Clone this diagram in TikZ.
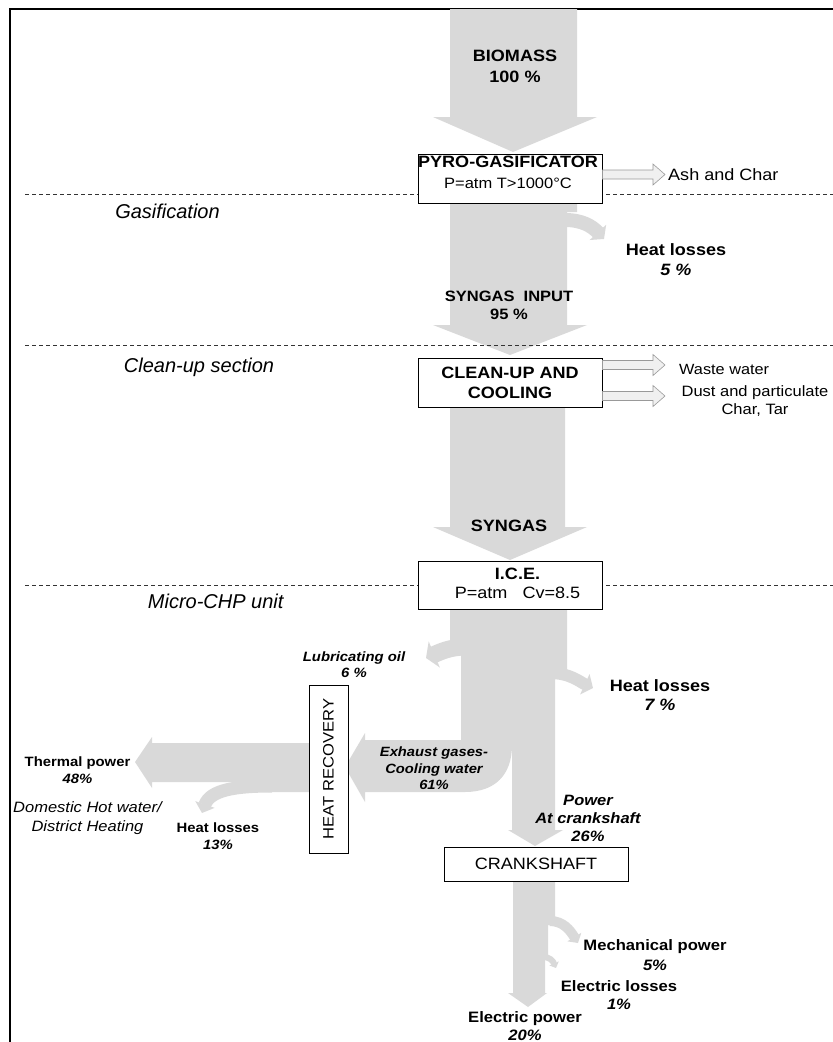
\documentclass[tikz,border=0pt]{standalone}
\usepackage{fontspec}
\setmainfont{Liberation Sans}[FakeStretch=1.1]
\newfontfamily\sectfont{Liberation Sans}
\usepackage{tikz}
\usetikzlibrary{arrows.meta,calc}
\definecolor{flowgray}{rgb}{0.85,0.85,0.85}
\definecolor{edgegray}{rgb}{0.6,0.6,0.6}
\definecolor{palegray}{rgb}{0.94,0.94,0.94}

\tikzset{
  flow/.style={fill=flowgray},
  branch/.style={draw=flowgray, line cap=butt},
  unitbox/.style={draw, fill=white, line width=0.9pt, inner sep=0pt},
  sectline/.style={dash pattern=on 4pt off 3pt, line width=0.6pt, black!80},
  sect/.style={inner sep=0pt, font=\sectfont\fontsize{20}{24}\selectfont\itshape},
  txt/.style={inner sep=0pt, align=center},
  outarrow/.style={draw=edgegray, fill=palegray, line width=0.6pt}
}

\newcommand{\outflow}[2]{%
  \draw[outarrow] ($(#1)+(0,-4.5)$) -- ($(#2)+(-12,-4.5)$) -- ($(#2)+(-12,-10.5)$)
    -- (#2) -- ($(#2)+(-12,10.5)$) -- ($(#2)+(-12,4.5)$) -- ($(#1)+(0,4.5)$) -- cycle;}

\begin{document}
\begin{tikzpicture}[x=1pt,y=-1pt]
	\useasboundingbox (0,0) rectangle (833,1042);
	\draw[line width=1.2pt] (10,1042) -- (10,9) -- (833,9);

	\fill[flow] (450,9) -- (577,9) -- (577,117) -- (597,117) -- (513,152) -- (433,117) -- (450,117) -- cycle;
	\fill[flow] (450,203) -- (577,203) -- (577,212) -- (567,212) -- (567,325) -- (587,325) -- (510,355) -- (433,325) -- (450,325) -- cycle;
	\draw[branch, line width=14pt, -{Triangle[length=9pt,width=22pt]}] (565,220) .. controls (582,220) and (592,226) .. (604,239);
	\fill[flow] (450,407) -- (565,407) -- (565,527) -- (587,527) -- (510,560) -- (433,527) -- (450,527) -- cycle;

	\fill[flow] (450,609) -- (567,609) -- (567,670) -- (555,670) -- (555,830) -- (563,830) -- (535,846) -- (508,830) -- (512,830)
		-- (512,745) .. controls (512,775) and (495,792) .. (465,792) -- (365,792) -- (365,802) -- (345,767) -- (365,733)
		-- (365,740) -- (461,740) -- (461,646) -- (450,646) -- cycle;
	\draw[branch, line width=17pt, -{Triangle[length=9pt,width=28pt]}] (466,647) .. controls (450,647) and (440,652) .. (426,658);
	\draw[branch, line width=12pt, -{Triangle[length=9pt,width=22pt]}] (550,673) .. controls (570,673) and (580,682) .. (593,688);

	\fill[flow] (309,743) -- (152,743) -- (152,737) -- (135,762) -- (152,788) -- (152,782) -- (268,782) -- (268,792) -- (309,792) -- cycle;
	\draw[branch, line width=13pt, -{Triangle[length=9pt,width=20pt]}] (272,786) .. controls (235,786) and (210,790) .. (202,813);

	\fill[flow] (513,881) -- (555,881) -- (555,925) -- (548,925) -- (548,958) -- (545,958) -- (545,993) -- (547,993) -- (528,1007) -- (508,993) -- (513,993) -- cycle;
	\draw[branch, line width=10pt, -{Triangle[length=7pt,width=16pt]}] (550,921) .. controls (563,921) and (570,930) .. (578,943);
	\draw[branch, line width=6pt, -{Triangle[length=5pt,width=10pt]}] (543,957) .. controls (550,957) and (553,961) .. (556,968);

	\foreach \y in {194,345,585}
		\draw[sectline] (25,\y) -- (833,\y);

	\node[unitbox, minimum width=184pt, minimum height=49pt] (gasif) at (510,178.5) {};
	\node[unitbox, minimum width=184pt, minimum height=49pt, align=center, font=\fontsize{16.4}{20}\selectfont\bfseries] (clean) at (510,382.5) {CLEAN-UP AND\\COOLING};
	\node[unitbox, minimum width=184pt, minimum height=48pt] (ice) at (510,585) {};
	\node[unitbox, rotate=90, minimum width=168pt, minimum height=39pt, font=\fontsize{15.1}{20}\selectfont] (heatrec) at (328.5,769) {HEAT RECOVERY};
	\node[unitbox, minimum width=184pt, minimum height=34pt, font=\fontsize{16.4}{20}\selectfont] (crank) at (536,864) {CRANKSHAFT};

	\node[txt, font=\fontsize{16.4}{20.5}\selectfont\bfseries] (biomass) at (515,66.5) {BIOMASS\\100 \%};
	\node[txt, font=\fontsize{16.4}{20}\selectfont\bfseries] (gastitle) at (508,162) {PYRO-GASIFICATOR};
	\node[txt, font=\fontsize{15}{20}\selectfont] (gascond) at (508,183) {P=atm T>1000°C};
	\node[txt, anchor=west, font=\fontsize{16.4}{20}\selectfont] (ash) at (668,174.5) {Ash and Char};
	\node[txt, font=\fontsize{16.4}{20}\selectfont\bfseries] (loss1) at (676,260) {Heat losses\\\textit{5 \%}};
	\node[txt, font=\fontsize{15}{18.5}\selectfont\bfseries] (syngasin) at (509,305.3) {SYNGAS~~INPUT\\95 \%};
	\node[sect] (sgas) at (167.5,211) {Gasification};
	\node[sect] (sclean) at (199,367) {Clean-up section};
	\node[sect] (schp) at (215.7,601) {Micro-CHP unit};
	\node[txt, anchor=west, font=\fontsize{14.8}{18}\selectfont] (waste) at (679,369) {Waste water};
	\node[txt, font=\fontsize{15}{18}\selectfont] (dust) at (755,401) {Dust and particulate\\Char, Tar};
	\node[txt, font=\fontsize{16.4}{20}\selectfont\bfseries] (syngas) at (509,525.5) {SYNGAS};
	\node[txt, font=\fontsize{16.4}{19.2}\selectfont] (icetext) at (517.5,583.4) {\textbf{I.C.E.}\\P=atm~~~Cv=8.5};
	\node[txt, font=\fontsize{13.5}{16}\selectfont\bfseries\itshape] (lub) at (354,664.7) {Lubricating oil\\6 \%};
	\node[txt, font=\fontsize{16.4}{19}\selectfont\bfseries] (loss2) at (660,695.5) {Heat losses\\\textit{7 \%}};
	\node[txt, font=\fontsize{13.4}{16.7}\selectfont\bfseries\itshape] (exhaust) at (434,768.3) {Exhaust gases-\\Cooling water\\61\%};
	\node[txt, font=\fontsize{15}{18.3}\selectfont\bfseries\itshape] (power) at (588,818.3) {Power\\At crankshaft\\26\%};
	\node[txt, font=\fontsize{13.5}{16.7}\selectfont\bfseries] (thermal) at (77.5,770) {Thermal power\\\textit{48\%}};
	\node[txt, font=\fontsize{15}{18.5}\selectfont\itshape] (dhw) at (87.5,818.3) {Domestic Hot water/\\District Heating};
	\node[txt, font=\fontsize{13.5}{16.5}\selectfont\bfseries] (loss3) at (218,836) {Heat losses\\\textit{13\%}};
	\node[txt, font=\fontsize{15.1}{19.7}\selectfont\bfseries] (mech) at (655,955.2) {Mechanical power\\\textit{5\%}};
	\node[txt, font=\fontsize{15.1}{17.8}\selectfont\bfseries] (eloss) at (619,995) {Electric losses\\\textit{1\%}};
	\node[txt, font=\fontsize{15.1}{18}\selectfont\bfseries] (epower) at (525,1026) {Electric power\\\textit{20\%}};

	\coordinate (ashtip) at (665,174.5);
	\coordinate (ashbase) at (gasif.east |- ashtip);
	\coordinate (wastetip) at (665,365);
	\coordinate (wastebase) at (clean.east |- wastetip);
	\coordinate (dusttip) at (665,396);
	\coordinate (dustbase) at (clean.east |- dusttip);
	\outflow{ashbase}{ashtip}
	\outflow{wastebase}{wastetip}
	\outflow{dustbase}{dusttip}
\end{tikzpicture}
\end{document}
